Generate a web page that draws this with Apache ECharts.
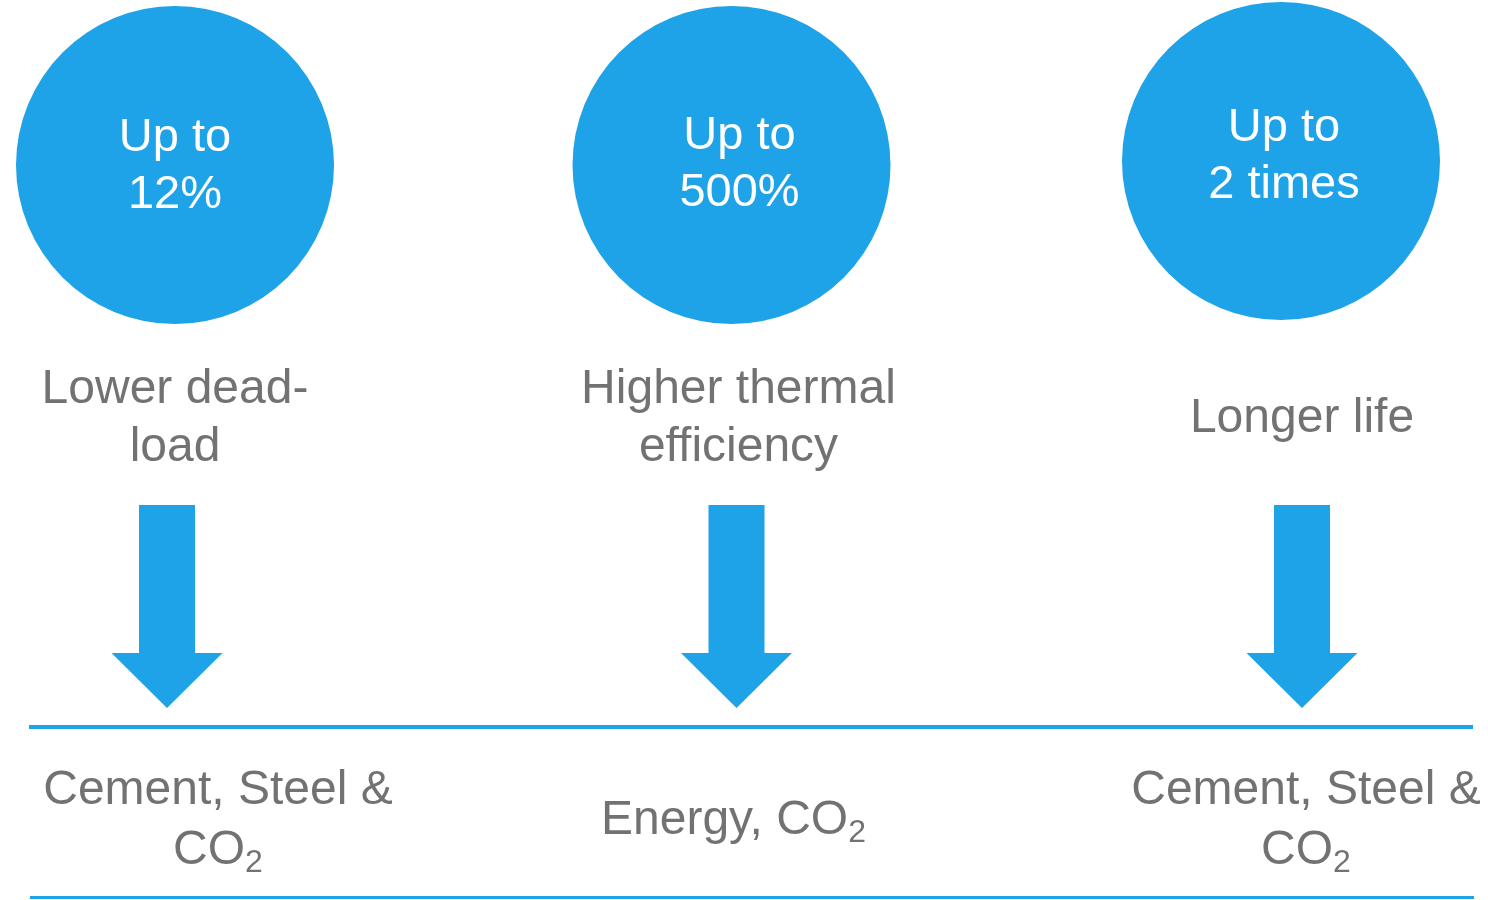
<!DOCTYPE html>
<html>
<head>
<meta charset="utf-8">
<script src="https://cdn.jsdelivr.net/npm/echarts@6/dist/echarts.min.js"></script>
<style>html,body{margin:0;padding:0;background:#fff;}#chart{width:1488px;height:900px;}</style>
</head>
<body>
<div id="chart"></div>
<script>
// ---- data ----
const categories = ['Lower dead-load', 'Higher thermal efficiency', 'Longer life'];
const headlines = ['Up to\n12%', 'Up to\n500%', 'Up to\n2 times'];
const benefits = ['Lower dead-\nload', 'Higher thermal\nefficiency', 'Longer life'];
const savings = ['{t|Cement, Steel &}\n{t|CO}{s|2}', '{t|Energy, CO}{s|2}', '{t|Cement, Steel &}\n{t|CO}{s|2}'];

// ---- layout / style ----
const BLUE = '#1ea2e8';
const GREY = '#4f4f4f';
const FONT = 'Liberation Sans';
const L = { circleY: 164, benefitY: 419, arrowTop: 505, headTop: 653, tip: 708, savingY: 821 };
// small per-column layout nudges (pixels)
const circleNudge = [[0, 1], [-7, 1], [-21, -3]];
const headlineNudge = [[0, 2], [8, 0], [3, -4]];
const arrowNudge = [-8, -2, 0];
const savingNudge = [43, -5, 4];

const chart = echarts.init(document.getElementById('chart'), null, { renderer: 'canvas' });

const colIdx = categories.map((c, i) => i);

chart.setOption({
  animation: false,
  backgroundColor: '#ffffff',
  grid: { left: 175, right: 186, top: 0, bottom: 0 },
  xAxis: { type: 'category', data: categories, boundaryGap: false, show: false },
  yAxis: { type: 'value', min: 0, max: 900, inverse: true, show: false },
  graphic: [
    { type: 'line', shape: { x1: 29, y1: 727, x2: 1473, y2: 727 }, style: { stroke: BLUE, lineWidth: 4 } },
    { type: 'line', shape: { x1: 30, y1: 897.5, x2: 1474, y2: 897.5 }, style: { stroke: BLUE, lineWidth: 3 } }
  ],
  series: [
    {
      type: 'scatter',
      symbol: 'circle',
      symbolSize: 318,
      itemStyle: { color: BLUE, opacity: 1 },
      data: colIdx.map(i => ({
        value: [i, L.circleY], symbolOffset: circleNudge[i],
        label: { offset: headlineNudge[i] }
      })),
      label: {
        show: true, position: 'inside', formatter: p => headlines[p.dataIndex],
        color: '#ffffff', fontSize: 47, lineHeight: 57, fontFamily: FONT, align: 'center'
      },
      silent: true
    },
    {
      type: 'scatter',
      symbolSize: 0,
      data: colIdx.map(i => [i, L.benefitY]),
      label: {
        show: true, position: 'inside', formatter: p => benefits[p.dataIndex],
        color: GREY, fontSize: 48, lineHeight: 58, fontFamily: FONT, align: 'center'
      },
      silent: true
    },
    {
      type: 'custom',
      data: colIdx.map(i => [i]),
      renderItem: function (params, api) {
        const i = params.dataIndex;
        const top = api.coord([api.value(0), L.arrowTop]);
        const head = api.coord([api.value(0), L.headTop]);
        const tip = api.coord([api.value(0), L.tip]);
        const x = top[0] + arrowNudge[i];
        const sw = 28, hw = 55.5;
        return {
          type: 'polygon',
          shape: { points: [
            [x - sw, top[1]], [x + sw, top[1]], [x + sw, head[1]], [x + hw, head[1]],
            [x, tip[1]], [x - hw, head[1]], [x - sw, head[1]]
          ] },
          style: { fill: BLUE }
        };
      },
      silent: true
    },
    {
      type: 'scatter',
      symbolSize: 0,
      data: colIdx.map(i => ({ value: [i, L.savingY], label: { offset: [savingNudge[i], 0] } })),
      label: {
        show: true, position: 'inside', formatter: p => savings[p.dataIndex],
        align: 'center',
        rich: {
          t: { color: GREY, fontSize: 48, lineHeight: 60, fontFamily: FONT },
          s: { color: GREY, fontSize: 32, fontFamily: FONT, padding: [24, 0, 0, 0] }
        }
      },
      silent: true
    }
  ]
});
</script>
</body>
</html>
